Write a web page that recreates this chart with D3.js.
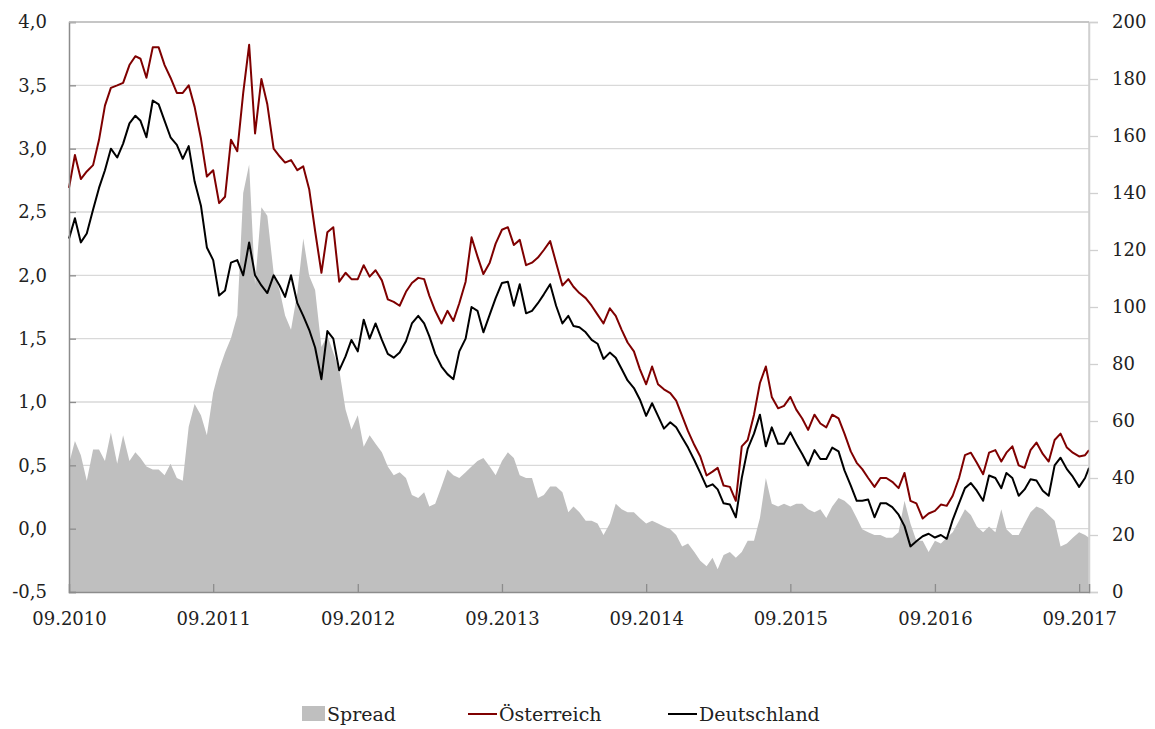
<!DOCTYPE html>
<html>
<head>
<meta charset="utf-8">
<script src="https://cdn.jsdelivr.net/npm/d3@7"></script>
<style>
  html, body { margin: 0; padding: 0; background: #fff; }
  svg { display: block; }
  text { font-family: "DejaVu Serif", serif; fill: #222; }
</style>
</head>
<body>
<svg id="chart" width="1155" height="729"></svg>
<script>
// ---- data (semi-monthly readings, 1st & 16th of each month, last point = end of series) ----
const startDate = "2010-09-01";
const endDate = "2017-09-26";

const oesterreich = [
  2.69,2.95,2.76,2.82,2.87,3.07,3.34,3.48,3.50,3.52,
  3.66,3.73,3.71,3.56,3.80,3.80,3.66,3.56,3.44,3.44,
  3.50,3.33,3.08,2.78,2.83,2.57,2.62,3.07,2.98,3.44,
  3.82,3.12,3.55,3.35,3.00,2.94,2.89,2.91,2.83,2.86,
  2.68,2.35,2.02,2.34,2.38,1.95,2.02,1.97,1.97,2.08,
  1.99,2.04,1.96,1.81,1.79,1.76,1.87,1.94,1.98,1.97,
  1.84,1.72,1.62,1.72,1.64,1.78,1.95,2.30,2.15,2.01,
  2.10,2.25,2.36,2.38,2.24,2.28,2.08,2.10,2.14,2.20,
  2.27,2.10,1.92,1.97,1.91,1.86,1.82,1.76,1.69,1.62,
  1.74,1.68,1.57,1.47,1.40,1.26,1.14,1.28,1.14,1.10,
  1.07,1.01,0.89,0.77,0.66,0.57,0.42,0.45,0.48,0.34,
  0.33,0.22,0.65,0.70,0.90,1.15,1.28,1.04,0.95,0.97,
  1.04,0.94,0.87,0.78,0.90,0.83,0.80,0.90,0.87,0.75,
  0.61,0.52,0.47,0.40,0.33,0.40,0.40,0.37,0.32,0.44,
  0.22,0.20,0.08,0.12,0.14,0.19,0.18,0.26,0.40,0.58,
  0.60,0.52,0.43,0.60,0.62,0.53,0.60,0.65,0.50,0.48,
  0.62,0.68,0.59,0.53,0.70,0.75,0.64,0.60,0.57,0.58,
  0.62
];

const deutschland = [
  2.29,2.45,2.26,2.33,2.52,2.69,2.83,3.00,2.93,3.04,
  3.20,3.26,3.22,3.09,3.38,3.35,3.22,3.09,3.03,2.92,
  3.02,2.74,2.55,2.22,2.12,1.84,1.88,2.10,2.12,2.00,
  2.26,2.00,1.92,1.86,2.00,1.92,1.83,2.00,1.78,1.68,
  1.57,1.43,1.18,1.56,1.50,1.25,1.36,1.49,1.40,1.65,
  1.50,1.62,1.49,1.38,1.35,1.39,1.48,1.62,1.68,1.62,
  1.52,1.38,1.28,1.22,1.18,1.40,1.50,1.75,1.72,1.55,
  1.69,1.82,1.94,1.95,1.76,1.93,1.70,1.72,1.78,1.85,
  1.93,1.76,1.62,1.68,1.60,1.59,1.55,1.49,1.46,1.34,
  1.39,1.35,1.26,1.17,1.11,1.02,0.89,0.99,0.89,0.79,
  0.84,0.80,0.72,0.64,0.54,0.44,0.33,0.35,0.31,0.20,
  0.19,0.09,0.40,0.63,0.75,0.90,0.65,0.80,0.67,0.67,
  0.76,0.67,0.59,0.50,0.62,0.55,0.55,0.64,0.61,0.46,
  0.34,0.22,0.22,0.23,0.09,0.20,0.20,0.17,0.11,0.02,
  -0.14,-0.10,-0.06,-0.04,-0.07,-0.05,-0.08,0.07,0.20,0.32,
  0.36,0.30,0.22,0.42,0.40,0.32,0.44,0.40,0.26,0.31,
  0.39,0.38,0.30,0.26,0.50,0.56,0.47,0.41,0.33,0.40,
  0.48
];

const spread = [
  45,53,48,39,50,50,46,56,45,55,
  46,49,47,44,43,43,41,45,40,39,
  58,66,62,55,70,78,84,89,97,140,
  150,108,135,132,112,106,97,92,105,124,
  111,106,86,90,84,78,64,57,62,51,
  55,52,49,44,41,42,40,34,33,35,
  30,31,37,43,41,40,42,44,46,47,
  44,41,46,49,47,41,40,40,33,34,
  37,37,35,28,30,28,25,25,24,20,
  24,31,29,28,28,26,24,25,24,23,
  22,20,16,17,14,11,9,12,8,13,
  14,12,14,18,18,26,40,31,30,31,
  30,31,31,29,28,29,26,30,33,32,
  30,26,22,21,20,20,19,19,21,32,
  24,18,18,14,18,17,19,21,25,29,
  27,23,21,23,21,29,22,20,20,24,
  28,30,29,27,25,16,17,19,21,20,
  19
];

const leftTicks = [-0.5,0,0.5,1,1.5,2,2.5,3,3.5,4];
const rightTicks = [0,20,40,60,80,100,120,140,160,180,200];
const xTickLabels = ["09.2010","09.2011","09.2012","09.2013","09.2014","09.2015","09.2016","09.2017"];
const legendItems = ["Spread","Österreich","Deutschland"];

// ---- dates ----
const parse = d3.timeParse("%Y-%m-%d");
const t0 = parse(startDate), t1 = parse(endDate);
const dates = [];
for (let i = 0; i < oesterreich.length - 1; i++) {
  const m = d3.timeMonth.offset(t0, Math.floor(i / 2));
  dates.push(i % 2 === 0 ? m : d3.timeDay.offset(m, 15));
}
dates.push(t1);

// ---- layout ----
const M = { left: 69, right: 1089, top: 22, bottom: 592 };
const svg = d3.select("#chart");

const x = d3.scaleTime().domain([t0, t1]).range([M.left, M.right]);
const yL = d3.scaleLinear().domain([-0.5, 4]).range([M.bottom, M.top]);
const yR = d3.scaleLinear().domain([0, 200]).range([M.bottom, M.top]);

// gridlines
svg.append("g").selectAll("line").data(leftTicks.filter(d => d > -0.5))
  .join("line")
  .attr("x1", M.left).attr("x2", M.right)
  .attr("y1", d => yL(d)).attr("y2", d => yL(d))
  .attr("stroke", "#d9d9d9").attr("stroke-width", 1.3);

// spread area
const area = d3.area()
  .x((d, i) => x(dates[i]))
  .y0(yR(0))
  .y1(d => yR(d));
svg.append("path").datum(spread)
  .attr("d", area)
  .attr("fill", "#bfbfbf");

// frame lines
svg.append("line").attr("x1", M.right).attr("x2", M.right).attr("y1", M.top).attr("y2", M.bottom)
  .attr("stroke", "#d0d0d0").attr("stroke-width", 1.5);

// lines
const line = d3.line().x((d, i) => x(dates[i])).y(d => yL(d));
svg.append("path").datum(oesterreich)
  .attr("d", line).attr("fill", "none")
  .attr("stroke", "#7f0000").attr("stroke-width", 2).attr("stroke-linejoin", "round");
svg.append("path").datum(deutschland)
  .attr("d", line).attr("fill", "none")
  .attr("stroke", "#000").attr("stroke-width", 2).attr("stroke-linejoin", "round");

// axes
const fmt = d => d.toFixed(1).replace(".", ",");
const gL = svg.append("g").attr("transform", `translate(${M.left},0)`)
  .call(d3.axisLeft(yL).tickValues(leftTicks).tickFormat(fmt).tickSize(-7).tickPadding(22));
const gR = svg.append("g").attr("transform", `translate(${M.right},0)`)
  .call(d3.axisRight(yR).tickValues(rightTicks).tickFormat(d3.format("d")).tickSize(9).tickPadding(14));
const xTickDates = xTickLabels.map(s => d3.timeParse("%m.%Y")(s));
const gB = svg.append("g").attr("transform", `translate(0,${M.bottom})`)
  .call(d3.axisBottom(x).tickValues(xTickDates).tickFormat(d3.timeFormat("%m.%Y")).tickSize(-8).tickPadding(20));

[gL, gB].forEach(g => {
  g.select(".domain").attr("stroke", "#8c8c8c").attr("stroke-width", 1.5);
  g.selectAll(".tick line").attr("stroke", "#8c8c8c").attr("stroke-width", 1.3);
});
gR.select(".domain").attr("stroke", "#d0d0d0").attr("stroke-width", 1.5);
gR.selectAll(".tick line").attr("stroke", "#d0d0d0").attr("stroke-width", 1.3);
svg.selectAll(".tick text").style("font-family", '"DejaVu Serif", serif').style("font-size", "18px").attr("fill", "#222");
gB.select(".tick line").remove();

// top frame
svg.append("line").attr("x1", M.left).attr("x2", M.right).attr("y1", M.top).attr("y2", M.top)
  .attr("stroke", "#bdbdbd").attr("stroke-width", 1.3);

// legend
const lg = svg.append("g").style("font-size", "19px");
lg.append("rect").attr("x", 302).attr("y", 706).attr("width", 23).attr("height", 15).attr("fill", "#bfbfbf");
lg.append("text").attr("x", 327).attr("y", 721).text(legendItems[0]);
lg.append("line").attr("x1", 468).attr("x2", 497).attr("y1", 714).attr("y2", 714).attr("stroke", "#7f0000").attr("stroke-width", 2);
lg.append("text").attr("x", 499).attr("y", 721).text(legendItems[1]);
lg.append("line").attr("x1", 668).attr("x2", 697).attr("y1", 714).attr("y2", 714).attr("stroke", "#000").attr("stroke-width", 2);
lg.append("text").attr("x", 699).attr("y", 721).text(legendItems[2]);
</script>
</body>
</html>
